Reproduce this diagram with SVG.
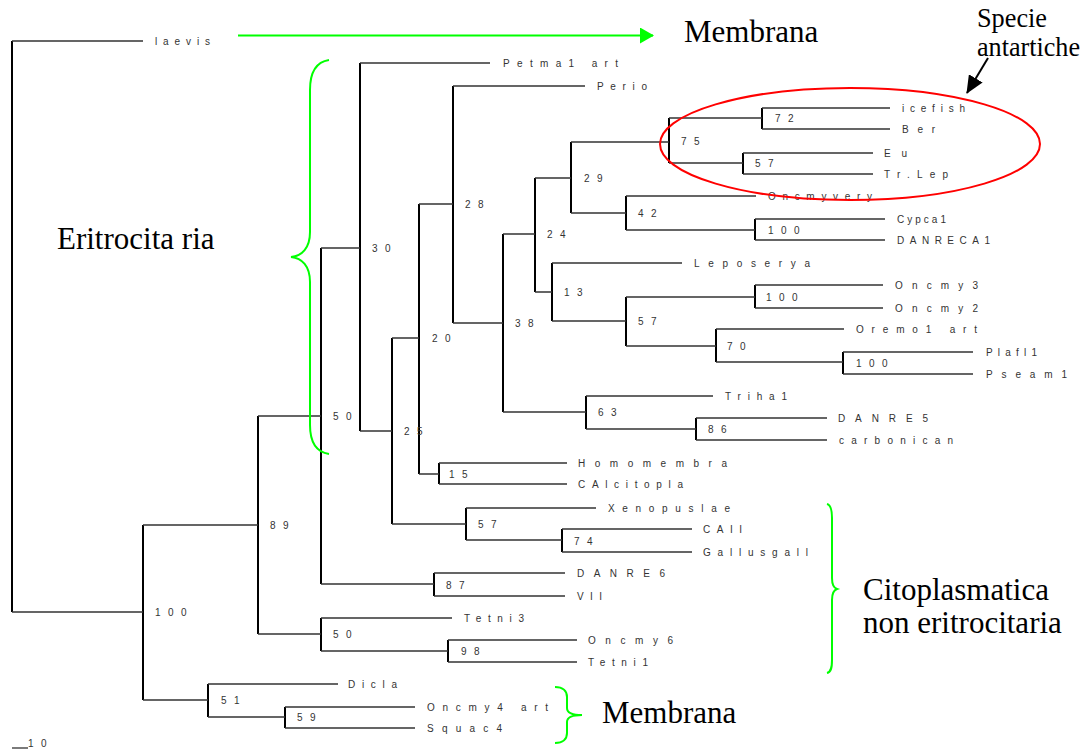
<svg xmlns="http://www.w3.org/2000/svg" width="1085" height="753" viewBox="0 0 1085 753">
<defs>
<style>
.h{stroke:#333;stroke-width:1.3;fill:none}
.v{stroke:#000;stroke-width:2;fill:none}
.lf{font-family:"Liberation Sans",Arial,sans-serif;font-size:10px;fill:#333}
.bs{font-family:"Liberation Sans",Arial,sans-serif;font-size:10px;fill:#333;letter-spacing:7.5px}
.big{font-family:"Liberation Serif","Times New Roman",serif;font-size:31px;fill:#000}
.sp{font-family:"Liberation Serif","Times New Roman",serif;font-size:27px;fill:#000}
.grn{stroke:#00ff00;stroke-width:2;fill:none}
</style>
<marker id="garrow" markerWidth="14" markerHeight="16" refX="13" refY="8" orient="auto" markerUnits="userSpaceOnUse">
<path d="M0,0 L14,8 L0,16 Z" fill="#00ff00"/>
</marker>
<marker id="barrow" markerWidth="18" markerHeight="16" refX="17" refY="8" orient="auto" markerUnits="userSpaceOnUse">
<path d="M0,0 L18,8 L0,16 Z" fill="#000"/>
</marker>
</defs>
<rect width="1085" height="753" fill="#fff"/>
<g id="connectors">
<path class="v" d="M12,41V612M143,525V700M258,416V634M321,248V584M360,63V431M392,338V524M419,204V474M453,86V323M503,234V412M535,178V292M571,142V213M669,118V163M762,108V129M743,153V174M626,196V230M755,219V240M552,263V321M626,297V346M755,285V308M716,329V362M843,352V374M586,396V429M696,418V440M439,463V484M466,508V540M562,529V552M434,573V596M321,618V651M448,640V662M208,684V717M285,707V728"/>
<path class="h" d="M12,41H143M12,612H143M143,525H258M143,700H208M258,416H321M258,634H321M321,248H360M321,584H434M360,63H490M360,431H392M392,338H419M392,524H466M419,204H453M419,474H439M453,86H585M453,323H503M503,234H535M503,412H586M535,178H571M535,292H552M571,142H669M571,213H626M669,118H762M669,163H743M762,108H890M762,129H890M743,153H873M743,174H873M626,196H756M626,230H755M755,219H885M755,240H885M552,263H682M552,321H626M626,297H755M626,346H716M755,285H883M755,308H883M716,329H844M716,362H843M843,352H973M843,374H973M586,396H713M586,429H696M696,418H827M696,440H827M439,463H567M439,484H567M466,508H596M466,540H562M562,529H692M562,552H692M434,573H565M434,596H565M321,618H452M321,651H448M448,640H577M448,662H577M208,684H338M208,717H285M285,707H415M285,728H415"/>
<path class="h" d="M12,748H28"/>
</g>
<g id="leaves">
<g id="n-laevis"><text class="lf" x="155" y="44.5" textLength="55" lengthAdjust="spacing">laevis</text></g>
<g id="n-petma1"><text class="lf" x="503" y="66.5" textLength="115" lengthAdjust="spacing">Petma1 art</text></g>
<g id="n-perio"><text class="lf" x="597" y="89.5" textLength="50" lengthAdjust="spacing">Perio</text></g>
<g id="n-icefish"><text class="lf" x="902" y="111.5" textLength="63" lengthAdjust="spacing">icefish</text></g>
<g id="n-ber"><text class="lf" x="902" y="132.5" textLength="33" lengthAdjust="spacing">Ber</text></g>
<g id="n-eu"><text class="lf" x="884" y="156.5" textLength="23" lengthAdjust="spacing">Eu</text></g>
<g id="n-trlep"><text class="lf" x="884" y="177.5" textLength="64" lengthAdjust="spacing">Tr.Lep</text></g>
<g id="n-oncmyvery"><text class="lf" x="768" y="199.5" textLength="104" lengthAdjust="spacing">Oncmyvery</text></g>
<g id="n-cypca1"><text class="lf" x="897" y="222.5" textLength="49" lengthAdjust="spacing">Cypca1</text></g>
<g id="n-danreca1"><text class="lf" x="897" y="243.5" textLength="93" lengthAdjust="spacing">DANRECA1</text></g>
<g id="n-leposerya"><text class="lf" x="694" y="266.5" textLength="116" lengthAdjust="spacing">Leposerya</text></g>
<g id="n-oncmy3"><text class="lf" x="895" y="288.5" textLength="83" lengthAdjust="spacing">Oncmy3</text></g>
<g id="n-oncmy2"><text class="lf" x="895" y="311.5" textLength="83" lengthAdjust="spacing">Oncmy2</text></g>
<g id="n-oremo1"><text class="lf" x="856" y="332.5" textLength="121" lengthAdjust="spacing">Oremo1 art</text></g>
<g id="n-plafl1"><text class="lf" x="986" y="355.5" textLength="51" lengthAdjust="spacing">Plafl1</text></g>
<g id="n-pseam1"><text class="lf" x="986" y="377.5" textLength="81" lengthAdjust="spacing">Pseam1</text></g>
<g id="n-triha1"><text class="lf" x="725" y="399.5" textLength="62" lengthAdjust="spacing">Triha1</text></g>
<g id="n-danre5"><text class="lf" x="838" y="421.5" textLength="90" lengthAdjust="spacing">DANRE5</text></g>
<g id="n-carbonican"><text class="lf" x="839" y="443.5" textLength="114" lengthAdjust="spacing">carbonican</text></g>
<g id="n-homomembra"><text class="lf" x="578" y="466.5" textLength="149" lengthAdjust="spacing">Homomembra</text></g>
<g id="n-calcitopla"><text class="lf" x="578" y="487.5" textLength="105" lengthAdjust="spacing">CAlcitopla</text></g>
<g id="n-xenopuslae"><text class="lf" x="608" y="511.5" textLength="122" lengthAdjust="spacing">Xenopuslae</text></g>
<g id="n-caii"><text class="lf" x="703" y="532.5" textLength="39" lengthAdjust="spacing">CAII</text></g>
<g id="n-gallusgall"><text class="lf" x="703" y="555.5" textLength="105" lengthAdjust="spacing">Gallusgall</text></g>
<g id="n-danre6"><text class="lf" x="577" y="576.5" textLength="88" lengthAdjust="spacing">DANRE6</text></g>
<g id="n-vii"><text class="lf" x="577" y="599.5" textLength="25" lengthAdjust="spacing">VII</text></g>
<g id="n-tetni3"><text class="lf" x="464" y="621.5" textLength="60" lengthAdjust="spacing">Tetni3</text></g>
<g id="n-oncmy6"><text class="lf" x="588" y="643.5" textLength="85" lengthAdjust="spacing">Oncmy6</text></g>
<g id="n-tetni1"><text class="lf" x="588" y="665.5" textLength="60" lengthAdjust="spacing">Tetni1</text></g>
<g id="n-dicla"><text class="lf" x="348" y="687.5" textLength="49" lengthAdjust="spacing">Dicla</text></g>
<g id="n-oncmy4"><text class="lf" x="427" y="710.5" textLength="121" lengthAdjust="spacing">Oncmy4 art</text></g>
<g id="n-squac4"><text class="lf" x="427" y="731.5" textLength="75" lengthAdjust="spacing">Squac4</text></g>
</g>
<g id="bootstrap">
<text class="bs" x="155" y="615.5">100</text>
<text class="bs" x="270" y="528.5">89</text>
<text class="bs" x="333" y="419.5">50</text>
<text class="bs" x="372" y="251.5">30</text>
<text class="bs" x="404" y="434.5">25</text>
<text class="bs" x="432" y="341.5">20</text>
<text class="bs" x="465" y="207.5">28</text>
<text class="bs" x="515" y="326.5">38</text>
<text class="bs" x="547" y="237.5">24</text>
<text class="bs" x="584" y="181.5">29</text>
<text class="bs" x="681" y="144.5">75</text>
<text class="bs" x="775" y="121.5">72</text>
<text class="bs" x="755" y="166.5">57</text>
<text class="bs" x="638" y="216.5">42</text>
<text class="bs" x="768" y="233.5">100</text>
<text class="bs" x="564" y="295.5">13</text>
<text class="bs" x="638" y="324.5">57</text>
<text class="bs" x="766" y="300.5">100</text>
<text class="bs" x="727" y="349.5">70</text>
<text class="bs" x="856" y="366.5">100</text>
<text class="bs" x="598" y="415.5">63</text>
<text class="bs" x="708" y="432.5">86</text>
<text class="bs" x="449" y="477.5">15</text>
<text class="bs" x="478" y="527.5">57</text>
<text class="bs" x="574" y="544.5">74</text>
<text class="bs" x="446" y="588.5">87</text>
<text class="bs" x="333" y="637.5">50</text>
<text class="bs" x="461" y="654.5">98</text>
<text class="bs" x="221" y="703.5">51</text>
<text class="bs" x="297" y="720.5">59</text>
<text class="bs" x="28" y="747">10</text>
</g>
<g id="annotations">
<g id="membrana-top">
<line class="grn" x1="238" y1="35.5" x2="653" y2="35.5" marker-end="url(#garrow)"/>
<text class="big" x="684" y="42">Membrana</text>
</g>
<g id="antartiche">
<ellipse cx="850" cy="144" rx="190" ry="56" fill="none" stroke="#ff0000" stroke-width="2"/>
<line x1="988" y1="58" x2="967" y2="93" stroke="#000" stroke-width="2" marker-end="url(#barrow)"/>
<text class="sp" x="977" y="27" textLength="70" lengthAdjust="spacingAndGlyphs">Specie</text>
<text class="sp" x="977" y="56" textLength="103" lengthAdjust="spacingAndGlyphs">antartiche</text>
</g>
<g id="eritrocitaria">
<path class="grn" d="M329,60 C316,62 310,72 310,90 V232 C310,248 302,256 291,257 C302,258 310,266 310,282 V425 C310,442 316,452 329,454"/>
<text class="big" x="57" y="249">Eritrocita ria</text>
</g>
<g id="citoplasmatica">
<path class="grn" d="M827,504 C831,505 832,510 832,518 V578 C832,585 834,588 837,589 C834,590 832,593 832,600 V660 C832,668 831,672 827,673"/>
<text class="big" x="863" y="600">Citoplasmatica</text>
<text class="big" x="863" y="633">non eritrocitaria</text>
</g>
<g id="membrana-bottom">
<path class="grn" d="M555,687 C563,687 567,691 567,697 V708 C567,713 572,715 582,715 C572,715 567,717 567,722 V733 C567,739 563,743 555,743"/>
<text class="big" x="602" y="723">Membrana</text>
</g>
</g>
</svg>
